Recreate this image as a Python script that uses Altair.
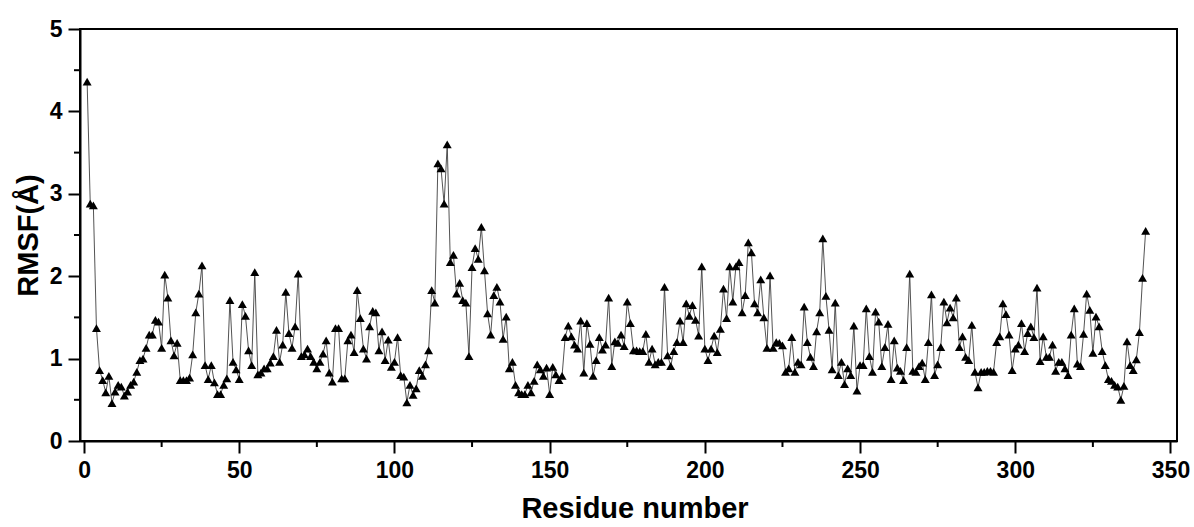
import altair as alt
import pandas as pd

rmsf = [
    4.36, 2.88, 2.86, 1.37, 0.86, 0.74, 0.59, 0.79, 0.46, 0.60,
    0.68, 0.66, 0.55, 0.60, 0.68, 0.72, 0.84, 0.98, 1.00, 1.13,
    1.29, 1.29, 1.47, 1.45, 1.13, 2.02, 1.74, 1.22, 1.04, 1.19,
    0.74, 0.74, 0.74, 0.77, 1.05, 1.56, 1.79, 2.13, 0.92, 0.75,
    0.92, 0.71, 0.57, 0.57, 0.68, 0.76, 1.71, 0.96, 0.87, 0.75,
    1.66, 1.52, 1.10, 0.92, 2.05, 0.81, 0.83, 0.88, 0.88, 0.95,
    1.03, 1.35, 0.96, 1.17, 1.81, 1.31, 1.13, 1.39, 2.03, 1.03,
    1.05, 1.12, 1.03, 0.96, 0.88, 0.96, 1.06, 1.22, 0.83, 0.72,
    1.37, 1.37, 0.76, 0.76, 1.22, 1.29, 1.08, 1.83, 1.49, 1.12,
    1.00, 1.39, 1.58, 1.56, 1.10, 1.33, 0.98, 1.23, 0.90, 0.96,
    1.26, 0.80, 0.78, 0.47, 0.68, 0.56, 0.64, 0.86, 0.79, 0.93,
    1.10, 1.83, 1.68, 3.37, 3.31, 2.88, 3.60, 2.17, 2.26, 1.79,
    1.92, 1.71, 1.68, 1.03, 2.11, 2.34, 2.21, 2.60, 2.07, 1.55,
    1.29, 1.77, 1.87, 1.69, 1.24, 1.51, 0.88, 0.96, 0.68, 0.59,
    0.57, 0.57, 0.68, 0.59, 0.73, 0.93, 0.87, 0.79, 0.89, 0.57,
    0.90, 0.81, 0.74, 0.79, 1.26, 1.40, 1.27, 1.17, 1.12, 1.46,
    0.83, 1.43, 1.18, 0.79, 0.98, 1.26, 1.11, 1.17, 1.74, 0.91,
    1.21, 1.19, 1.29, 1.15, 1.69, 1.43, 1.10, 1.10, 1.09, 1.09,
    1.30, 0.96, 1.12, 0.93, 0.96, 0.96, 1.87, 1.04, 0.91, 1.09,
    1.20, 1.46, 1.20, 1.67, 1.52, 1.65, 1.47, 1.28, 2.12, 1.12,
    0.98, 1.12, 1.28, 1.08, 1.36, 1.85, 1.49, 2.12, 1.69, 2.12,
    2.17, 1.56, 1.77, 2.41, 2.29, 1.67, 1.56, 1.96, 1.50, 1.13,
    2.01, 1.13, 1.20, 1.19, 1.16, 0.84, 0.88, 1.26, 0.84, 0.96,
    0.93, 1.63, 1.20, 1.02, 0.91, 1.33, 1.56, 2.46, 1.76, 1.35,
    0.87, 1.68, 0.80, 0.96, 0.69, 0.88, 0.80, 1.40, 0.61, 0.92,
    0.92, 1.61, 1.03, 0.84, 1.57, 1.45, 0.91, 1.14, 1.42, 0.75,
    1.22, 0.89, 0.85, 0.74, 1.14, 2.03, 0.85, 0.84, 0.91, 0.95,
    0.75, 1.20, 1.78, 0.80, 0.93, 1.14, 1.69, 1.44, 1.62, 1.50,
    1.74, 1.14, 1.27, 1.02, 0.98, 1.41, 0.84, 0.65, 0.84, 0.84,
    0.85, 0.85, 0.84, 1.20, 1.27, 1.67, 1.54, 1.29, 0.86, 1.12,
    1.17, 1.43, 1.09, 1.31, 1.39, 1.26, 1.86, 0.97, 1.27, 1.02,
    1.02, 1.17, 0.85, 0.96, 0.96, 0.88, 0.80, 1.29, 1.61, 0.94,
    0.91, 1.30, 1.79, 1.59, 1.07, 1.51, 1.39, 1.09, 0.92, 0.75,
    0.73, 0.68, 0.66, 0.50, 0.67, 1.21, 0.92, 0.86, 0.99, 1.32,
    1.98, 2.55,
]
residue = list(range(1, len(rmsf) + 1))

x_major = [0, 50, 100, 150, 200, 250, 300, 350]
x_minor = [25, 75, 125, 175, 225, 275, 325]
y_major = [0, 1, 2, 3, 4, 5]
y_minor = [0.5, 1.5, 2.5, 3.5, 4.5]

df = pd.DataFrame({"Residue": residue, "RMSF": rmsf})

W, H = 1097, 412
FONT = "Liberation Sans"
xs = alt.Scale(domain=[-1.3, 352.1], nice=False, zero=False)
ys = alt.Scale(domain=[0, 5], nice=False)

x_axis = alt.Axis(values=x_major, title="Residue number", format="d",
                  labelPadding=6, titlePadding=12, titleX=W / 2 + 6)
y_axis = alt.Axis(values=y_major, title="RMSF(Å)", format="d",
                  labelPadding=6, titlePadding=6)

base = alt.Chart(df)
line = base.mark_line(color="#404040", strokeWidth=0.9).encode(
    x=alt.X("Residue:Q", scale=xs, axis=x_axis),
    y=alt.Y("RMSF:Q", scale=ys, axis=y_axis),
)
pts = base.mark_point(shape="triangle-up", filled=True, color="black",
                      size=80, opacity=1).encode(
    x=alt.X("Residue:Q", scale=xs, axis=x_axis),
    y=alt.Y("RMSF:Q", scale=ys, axis=y_axis),
)
xminor = alt.Chart(pd.DataFrame({"Residue": x_minor})).mark_rule(
    color="black", strokeWidth=2).encode(
    x=alt.X("Residue:Q", scale=xs, axis=x_axis),
    y=alt.value(H), y2=alt.value(H + 6),
)
yminor = alt.Chart(pd.DataFrame({"RMSF": y_minor})).mark_rule(
    color="black", strokeWidth=2).encode(
    y=alt.Y("RMSF:Q", scale=ys, axis=y_axis),
    x=alt.value(0), x2=alt.value(-6),
)

chart = alt.layer(line, pts, xminor, yminor).properties(
    width=W, height=H,
    padding={"left": 80, "top": 29, "right": 17, "bottom": 86},
    autosize=alt.AutoSizeParams(type="none"),
    background="white",
).configure_view(
    stroke="black", strokeWidth=2
).configure_axis(
    grid=False,
    domainColor="black", domainWidth=2,
    tickColor="black", tickWidth=2, tickSize=12,
    labelFont=FONT, labelFontWeight="bold", labelFontSize=23, labelColor="black",
    titleFont=FONT, titleFontWeight="bold", titleFontSize=29, titleColor="black",
)

chart.save("out.html", embed_options={"renderer": "svg", "actions": False})
